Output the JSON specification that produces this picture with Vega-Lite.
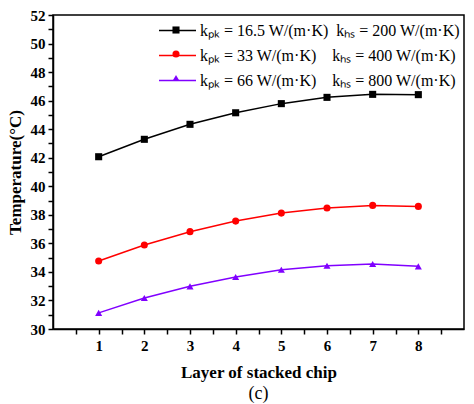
{
  "$schema": "https://vega.github.io/schema/vega-lite/v6.json",
  "width": 411,
  "height": 314,
  "autosize": {"type": "none"},
  "padding": {"left": 53, "top": 15, "right": 10, "bottom": 75},
  "background": "white",
  "config": {
    "view": {"stroke": "black", "strokeWidth": 1.5},
    "font": "Liberation Serif",
    "axis": {
      "grid": false,
      "domainColor": "black",
      "domainWidth": 1.5,
      "tickColor": "black",
      "tickWidth": 1.5,
      "tickSize": 5,
      "labelFont": "Liberation Serif",
      "labelFontWeight": "bold",
      "labelFontSize": 15,
      "labelColor": "black",
      "titleFont": "Liberation Serif",
      "titleFontWeight": "bold",
      "titleFontSize": 17,
      "titleColor": "black"
    }
  },
  "title": {
    "text": "(c)",
    "orient": "bottom",
    "anchor": "middle",
    "font": "Liberation Serif",
    "fontSize": 18,
    "fontWeight": "normal",
    "color": "black",
    "offset": 5
  },
  "data": {
    "values": [
      {"layer": 1, "temp": 42.07, "series": "kₚₖ = 16.5 W/(m·K)\u00a0\u00a0kₕₛ = 200 W/(m·K)"},
      {"layer": 2, "temp": 43.29, "series": "kₚₖ = 16.5 W/(m·K)\u00a0\u00a0kₕₛ = 200 W/(m·K)"},
      {"layer": 3, "temp": 44.34, "series": "kₚₖ = 16.5 W/(m·K)\u00a0\u00a0kₕₛ = 200 W/(m·K)"},
      {"layer": 4, "temp": 45.15, "series": "kₚₖ = 16.5 W/(m·K)\u00a0\u00a0kₕₛ = 200 W/(m·K)"},
      {"layer": 5, "temp": 45.79, "series": "kₚₖ = 16.5 W/(m·K)\u00a0\u00a0kₕₛ = 200 W/(m·K)"},
      {"layer": 6, "temp": 46.23, "series": "kₚₖ = 16.5 W/(m·K)\u00a0\u00a0kₕₛ = 200 W/(m·K)"},
      {"layer": 7, "temp": 46.44, "series": "kₚₖ = 16.5 W/(m·K)\u00a0\u00a0kₕₛ = 200 W/(m·K)"},
      {"layer": 8, "temp": 46.42, "series": "kₚₖ = 16.5 W/(m·K)\u00a0\u00a0kₕₛ = 200 W/(m·K)"},
      {"layer": 1, "temp": 34.76, "series": "kₚₖ = 33 W/(m·K)\u00a0\u00a0\u00a0\u00a0kₕₛ = 400 W/(m·K)"},
      {"layer": 2, "temp": 35.88, "series": "kₚₖ = 33 W/(m·K)\u00a0\u00a0\u00a0\u00a0kₕₛ = 400 W/(m·K)"},
      {"layer": 3, "temp": 36.82, "series": "kₚₖ = 33 W/(m·K)\u00a0\u00a0\u00a0\u00a0kₕₛ = 400 W/(m·K)"},
      {"layer": 4, "temp": 37.56, "series": "kₚₖ = 33 W/(m·K)\u00a0\u00a0\u00a0\u00a0kₕₛ = 400 W/(m·K)"},
      {"layer": 5, "temp": 38.12, "series": "kₚₖ = 33 W/(m·K)\u00a0\u00a0\u00a0\u00a0kₕₛ = 400 W/(m·K)"},
      {"layer": 6, "temp": 38.48, "series": "kₚₖ = 33 W/(m·K)\u00a0\u00a0\u00a0\u00a0kₕₛ = 400 W/(m·K)"},
      {"layer": 7, "temp": 38.66, "series": "kₚₖ = 33 W/(m·K)\u00a0\u00a0\u00a0\u00a0kₕₛ = 400 W/(m·K)"},
      {"layer": 8, "temp": 38.59, "series": "kₚₖ = 33 W/(m·K)\u00a0\u00a0\u00a0\u00a0kₕₛ = 400 W/(m·K)"},
      {"layer": 1, "temp": 31.13, "series": "kₚₖ = 66 W/(m·K)\u00a0\u00a0\u00a0\u00a0kₕₛ = 800 W/(m·K)"},
      {"layer": 2, "temp": 32.17, "series": "kₚₖ = 66 W/(m·K)\u00a0\u00a0\u00a0\u00a0kₕₛ = 800 W/(m·K)"},
      {"layer": 3, "temp": 32.99, "series": "kₚₖ = 66 W/(m·K)\u00a0\u00a0\u00a0\u00a0kₕₛ = 800 W/(m·K)"},
      {"layer": 4, "temp": 33.64, "series": "kₚₖ = 66 W/(m·K)\u00a0\u00a0\u00a0\u00a0kₕₛ = 800 W/(m·K)"},
      {"layer": 5, "temp": 34.15, "series": "kₚₖ = 66 W/(m·K)\u00a0\u00a0\u00a0\u00a0kₕₛ = 800 W/(m·K)"},
      {"layer": 6, "temp": 34.43, "series": "kₚₖ = 66 W/(m·K)\u00a0\u00a0\u00a0\u00a0kₕₛ = 800 W/(m·K)"},
      {"layer": 7, "temp": 34.55, "series": "kₚₖ = 66 W/(m·K)\u00a0\u00a0\u00a0\u00a0kₕₛ = 800 W/(m·K)"},
      {"layer": 8, "temp": 34.39, "series": "kₚₖ = 66 W/(m·K)\u00a0\u00a0\u00a0\u00a0kₕₛ = 800 W/(m·K)"}
    ]
  },
  "encoding": {
    "x": {
      "field": "layer",
      "type": "quantitative",
      "scale": {"domain": [0, 9], "nice": false, "zero": false},
      "axis": {
        "title": "Layer of stacked chip",
        "values": [0.5, 1, 1.5, 2, 2.5, 3, 3.5, 4, 4.5, 5, 5.5, 6, 6.5, 7, 7.5, 8, 8.5],
        "labelExpr": "datum.value % 1 == 0 ? toString(datum.value) : ''",
        "labelPadding": 4,
        "titlePadding": 11
      }
    },
    "y": {
      "field": "temp",
      "type": "quantitative",
      "scale": {"domain": [30, 52], "nice": false, "zero": false},
      "axis": {
        "title": "Temperature(°C)",
        "values": [30, 31, 32, 33, 34, 35, 36, 37, 38, 39, 40, 41, 42, 43, 44, 45, 46, 47, 48, 49, 50, 51, 52],
        "labelExpr": "datum.value % 2 == 0 ? datum.label : ''",
        "labelPadding": 3,
        "titlePadding": 6
      }
    }
  },
  "layer": [
    {
      "mark": {"type": "line", "strokeWidth": 1.5},
      "encoding": {
        "stroke": {
          "field": "series",
          "type": "nominal",
          "scale": {
            "domain": [
              "kₚₖ = 16.5 W/(m·K)\u00a0\u00a0kₕₛ = 200 W/(m·K)",
              "kₚₖ = 33 W/(m·K)\u00a0\u00a0\u00a0\u00a0kₕₛ = 400 W/(m·K)",
              "kₚₖ = 66 W/(m·K)\u00a0\u00a0\u00a0\u00a0kₕₛ = 800 W/(m·K)"
            ],
            "range": ["#000000", "#ff0000", "#8000ff"]
          },
          "legend": {
            "title": null,
            "orient": "none",
            "legendX": 116,
            "legendY": 7,
            "padding": 0,
            "symbolType": "M-2.5,0H2.5",
            "symbolSize": 219,
            "symbolStrokeWidth": 1.5,
            "labelFont": "Liberation Serif",
            "labelFontSize": 16,
            "labelColor": "black",
            "labelOffset": 14,
            "labelLimit": 400,
            "rowPadding": 8
          }
        }
      }
    },
    {
      "mark": {"type": "point", "filled": true, "size": 50, "strokeWidth": 0, "opacity": 1},
      "encoding": {
        "fill": {
          "field": "series",
          "type": "nominal",
          "scale": {"range": ["#000000", "#ff0000", "#8000ff"]},
          "legend": {
            "title": null,
            "orient": "none",
            "legendX": 115,
            "legendY": 7,
            "padding": 0,
            "symbolSize": 50,
            "symbolStrokeWidth": 0,
            "symbolOpacity": 1,
            "labelExpr": "''",
            "labelFontSize": 16,
            "labelOffset": 0,
            "rowPadding": 8
          }
        },
        "shape": {
          "field": "series",
          "type": "nominal",
          "scale": {"range": ["square", "circle", "triangle-up"]},
          "legend": {
            "title": null,
            "orient": "none",
            "legendX": 115,
            "legendY": 7,
            "padding": 0,
            "symbolSize": 50,
            "symbolStrokeWidth": 0,
            "labelExpr": "''",
            "labelFontSize": 16,
            "labelOffset": 0,
            "rowPadding": 8
          }
        }
      }
    }
  ]
}
